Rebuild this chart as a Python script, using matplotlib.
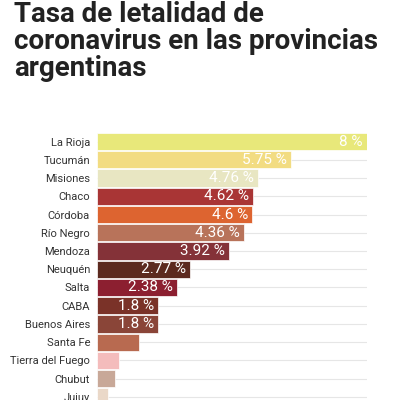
import matplotlib
matplotlib.use("Agg")
import matplotlib.pyplot as plt

provincias = ["La Rioja", "Tucumán", "Misiones", "Chaco", "Córdoba", "Río Negro", "Mendoza",
              "Neuquén", "Salta", "CABA", "Buenos Aires", "Santa Fe", "Tierra del Fuego",
              "Chubut", "Jujuy"]
tasas = [8, 5.75, 4.76, 4.62, 4.6, 4.36, 3.92, 2.77, 2.38, 1.8, 1.8, 1.25, 0.65, 0.53, 0.32]
etiquetas = ["8 %", "5.75 %", "4.76 %", "4.62 %", "4.6 %", "4.36 %", "3.92 %", "2.77 %",
             "2.38 %", "1.8 %", "1.8 %", "", "", "", ""]
colores = ["#e8e87a", "#f2dc82", "#e8e6c2", "#a93535", "#dd6430", "#b8735a", "#843238",
           "#5c2a1f", "#8c1f30", "#7a3228", "#8a4538", "#b86a50", "#f4bcbc", "#c8a898", "#ead8c8"]

plt.rcParams['font.family'] = ['Roboto', 'DejaVu Sans']
fig = plt.figure(figsize=(4, 4), dpi=100)
fig.text(0.035, 0.998, "Tasa de letalidad de\ncoronavirus en las provincias\nargentinas",
         ha="left", va="top", fontsize=20, fontweight="bold", color="#222222", linespacing=1.0)

ax = fig.add_axes([97/400, 0, 270/400, 267/400])
y = list(range(len(provincias)))
for yi in y:
    ax.axhline(yi, color="#e6e6e6", lw=0.8, zorder=0)
ax.barh(y, tasas, height=0.95, color=colores, edgecolor="white", linewidth=0.5, zorder=2)
for yi, v, t in zip(y, tasas, etiquetas):
    if t:
        ax.text(v - 0.12, yi, t, ha="right", va="center", color="white", fontsize=11, zorder=3)
ax.set_xlim(0, 8)
ax.set_ylim(14.17, -0.47)
ax.set_yticks(y)
ax.set_yticklabels(provincias, fontsize=8, color="#333333")
ax.tick_params(axis="y", length=0, pad=5)
ax.set_xticks([])
for s in ax.spines.values():
    s.set_visible(False)

fig.savefig("out.png", dpi=100)
